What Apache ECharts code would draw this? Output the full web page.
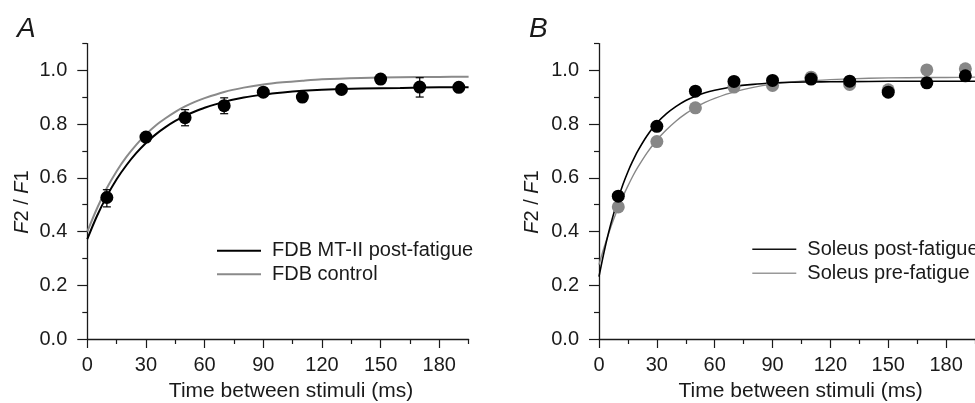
<!DOCTYPE html>
<html><head><meta charset="utf-8">
<script src="https://cdn.jsdelivr.net/npm/echarts@6/dist/echarts.min.js"></script>
<style>html,body{margin:0;padding:0;background:#fff}#c{width:975px;height:403px}</style>
</head><body><div id="c"></div><script>
// ---- data ----
const xMajorTicks = [0, 30, 60, 90, 120, 150, 180];
const xMinorTicks = [15, 45, 75, 105, 135, 165, 195];
const yMajorTicks = [0, 0.2, 0.4, 0.6, 0.8, 1.0];
const yMinorTicks = [0.1, 0.3, 0.5, 0.7, 0.9, 1.1];
const stimX = [10, 30, 50, 70, 90, 110, 130, 150, 170, 190];

// Panel A
const fdbPost = [0.527, 0.752, 0.824, 0.869, 0.919, 0.901, 0.929, 0.968, 0.938, 0.937];
const fdbErrX = [10, 50, 70, 170];
const fdbErrLow = [0.492, 0.794, 0.839, 0.901];
const fdbErrHigh = [0.556, 0.854, 0.898, 0.973];
const fitXA = [0, 5, 10, 15, 20, 25, 30, 35, 40, 45, 50, 55, 60, 70, 80, 90, 100, 110, 120, 140, 160, 180, 195];
const fdbPostFit = [0.372, 0.459, 0.532, 0.595, 0.647, 0.692, 0.730, 0.762, 0.789, 0.812, 0.831, 0.847, 0.861, 0.883, 0.899, 0.910, 0.918, 0.924, 0.928, 0.933, 0.935, 0.937, 0.937];
const fdbCtrlFit = [0.400, 0.487, 0.562, 0.625, 0.678, 0.723, 0.762, 0.795, 0.822, 0.846, 0.866, 0.883, 0.897, 0.920, 0.936, 0.948, 0.956, 0.962, 0.967, 0.972, 0.975, 0.976, 0.977];

// Panel B
const solPost = [0.532, 0.792, 0.923, 0.959, 0.963, 0.968, 0.960, 0.919, 0.954, 0.980];
const solPre = [0.492, 0.735, 0.861, 0.938, 0.944, 0.975, 0.948, 0.928, 1.002, 1.006];
const fitXB = [0, 2.5, 5, 7.5, 10, 12.5, 15, 17.5, 20, 25, 30, 35, 40, 45, 50, 55, 60, 70, 80, 90, 100, 110, 120, 140, 160, 180, 195];
const solPostFit = [0.232, 0.320, 0.397, 0.464, 0.524, 0.577, 0.623, 0.663, 0.699, 0.758, 0.804, 0.839, 0.866, 0.888, 0.904, 0.917, 0.926, 0.940, 0.948, 0.953, 0.956, 0.957, 0.958, 0.959, 0.960, 0.960, 0.960];
const solPreFit = [0.277, 0.338, 0.393, 0.444, 0.490, 0.532, 0.570, 0.606, 0.638, 0.694, 0.741, 0.779, 0.812, 0.839, 0.862, 0.881, 0.896, 0.920, 0.937, 0.949, 0.957, 0.962, 0.966, 0.971, 0.973, 0.974, 0.975];

const seriesNames = ['FDB MT-II post-fatigue', 'FDB control', 'Soleus post-fatigue', 'Soleus pre-fatigue'];

// ---- chart ----
const FONT = '"Liberation Sans", Arial, Helvetica, sans-serif';
const INK = '#1a1a1a';
const GRAY = '#878787';
const zip = (xs, ys) => xs.map((x, i) => [x, ys[i]]);

function xAxisMajor(gi) {
  return {
    type: 'value', gridIndex: gi, min: 0, max: 195, interval: 15,
    axisLine: { onZero: false, lineStyle: { color: INK, width: 1.3 } },
    axisTick: { customValues: xMajorTicks, length: 9, lineStyle: { color: INK, width: 1.2 } },
    splitLine: { show: false },
    axisLabel: { customValues: xMajorTicks, margin: 16, fontSize: 20, fontFamily: FONT, color: INK, formatter: v => String(Math.round(v)) }
  };
}
function xAxisMinor(gi) {
  return {
    type: 'value', gridIndex: gi, min: 0, max: 195, interval: 15, position: 'bottom', offset: 0,
    axisLine: { show: false, onZero: false },
    axisTick: { show: true, customValues: xMinorTicks, length: 5, lineStyle: { color: INK, width: 1.2 } },
    splitLine: { show: false }, axisLabel: { show: false }
  };
}
function yAxisMajor(gi) {
  return {
    type: 'value', gridIndex: gi, min: 0, max: 1.1, interval: 0.1,
    axisLine: { show: true, onZero: false, lineStyle: { color: INK, width: 1.3 } },
    axisTick: { show: true, customValues: yMajorTicks, length: 10, lineStyle: { color: INK, width: 1.2 } },
    splitLine: { show: false },
    axisLabel: { customValues: yMajorTicks, margin: 20, fontSize: 20, fontFamily: FONT, color: INK, formatter: v => v.toFixed(1) }
  };
}
function yAxisMinor(gi) {
  return {
    type: 'value', gridIndex: gi, min: 0, max: 1.1, interval: 0.1, position: 'left', offset: 0,
    axisLine: { show: false, onZero: false },
    axisTick: { show: true, customValues: yMinorTicks, length: 5, lineStyle: { color: INK, width: 1.2 } },
    splitLine: { show: false }, axisLabel: { show: false }
  };
}
function fitLine(name, gi, xs, ys, color, width, z) {
  return {
    name, type: 'line', xAxisIndex: gi, yAxisIndex: gi, data: zip(xs, ys),
    smooth: 0.3, symbol: 'none', showSymbol: false, color,
    lineStyle: { color, width }, z, silent: true, animation: false
  };
}
function dots(gi, ys, color, z) {
  return {
    type: 'scatter', xAxisIndex: gi, yAxisIndex: gi, data: zip(stimX, ys),
    symbol: 'circle', symbolSize: 13, itemStyle: { color, opacity: 1 }, z, animation: false
  };
}

const errData = fdbErrX.map((x, i) => [x, fdbErrLow[i], fdbErrHigh[i]]);
const legendText = { fontSize: 20, fontFamily: FONT, color: INK, lineHeight: 20, padding: [0, 0, 0, 6] };

const option = {
  backgroundColor: '#fff',
  animation: false,
  grid: [
    { left: 87.3, top: 43.6, width: 381.3, height: 295.4 },
    { left: 599, top: 43.6, width: 381.3, height: 295.4 }
  ],
  xAxis: [xAxisMajor(0), xAxisMajor(1), xAxisMinor(0), xAxisMinor(1)],
  yAxis: [yAxisMajor(0), yAxisMajor(1), yAxisMinor(0), yAxisMinor(1)],
  legend: [
    {
      data: [seriesNames[0], seriesNames[1]], orient: 'vertical', left: 217, top: 240.7,
      icon: 'rect', itemWidth: 44, itemHeight: 2, itemGap: 3.6, padding: 0, selectedMode: false,
      textStyle: legendText
    },
    {
      data: [
        { name: seriesNames[2], itemStyle: { color: '#111' } },
        { name: seriesNames[3], itemStyle: { color: '#999' } }
      ], orient: 'vertical', left: 752.3, top: 239.3,
      icon: 'rect', itemWidth: 44, itemHeight: 1.6, itemGap: 4, padding: 0, selectedMode: false,
      textStyle: legendText
    }
  ],
  series: [
    fitLine(seriesNames[1], 0, fitXA, fdbCtrlFit, '#8a8a8a', 2, 2),
    fitLine(seriesNames[0], 0, fitXA, fdbPostFit, '#000', 2, 3),
    {
      type: 'custom', xAxisIndex: 0, yAxisIndex: 0, data: errData, z: 4, animation: false,
      renderItem: (params, api) => {
        const x = api.value(0);
        const lo = api.coord([x, api.value(1)]);
        const hi = api.coord([x, api.value(2)]);
        const cw = 4;
        const st = { stroke: '#000', lineWidth: 1.2 };
        return {
          type: 'group', children: [
            { type: 'line', shape: { x1: lo[0], y1: lo[1], x2: hi[0], y2: hi[1] }, style: st },
            { type: 'line', shape: { x1: lo[0] - cw, y1: lo[1], x2: lo[0] + cw, y2: lo[1] }, style: st },
            { type: 'line', shape: { x1: hi[0] - cw, y1: hi[1], x2: hi[0] + cw, y2: hi[1] }, style: st }
          ]
        };
      }
    },
    dots(0, fdbPost, '#000', 5),

    fitLine(seriesNames[3], 1, fitXB, solPreFit, GRAY, 1.4, 2),
    fitLine(seriesNames[2], 1, fitXB, solPostFit, '#000', 1.6, 3),
    dots(1, solPre, GRAY, 4),
    dots(1, solPost, '#000', 5)
  ],
  graphic: [
    { type: 'text', left: 17, top: 15, style: { text: 'A', font: 'italic 28px ' + FONT, fill: INK } },
    { type: 'text', left: 529, top: 15, style: { text: 'B', font: 'italic 28px ' + FONT, fill: INK } },
    {
      type: 'text', x: 22, y: 202, rotation: Math.PI / 2,
      style: {
        text: '{i|F}2 / {i|F}1', align: 'center', verticalAlign: 'middle',
        font: '20px ' + FONT, fill: INK,
        rich: { i: { fontStyle: 'italic', fontSize: 20, fontFamily: FONT, fill: INK } }
      }
    },
    {
      type: 'text', x: 532.5, y: 202, rotation: Math.PI / 2,
      style: {
        text: '{i|F}2 / {i|F}1', align: 'center', verticalAlign: 'middle',
        font: '20px ' + FONT, fill: INK,
        rich: { i: { fontStyle: 'italic', fontSize: 20, fontFamily: FONT, fill: INK } }
      }
    },
    {
      type: 'text', x: 291, y: 391, style: {
        text: 'Time between stimuli (ms)', align: 'center', verticalAlign: 'middle',
        font: '21px ' + FONT, fill: INK
      }
    },
    {
      type: 'text', x: 800.7, y: 391, style: {
        text: 'Time between stimuli (ms)', align: 'center', verticalAlign: 'middle',
        font: '21px ' + FONT, fill: INK
      }
    }
  ]
};

const chart = echarts.init(document.getElementById('c'), null, { renderer: 'canvas' });
chart.setOption(option);
</script></body></html>
